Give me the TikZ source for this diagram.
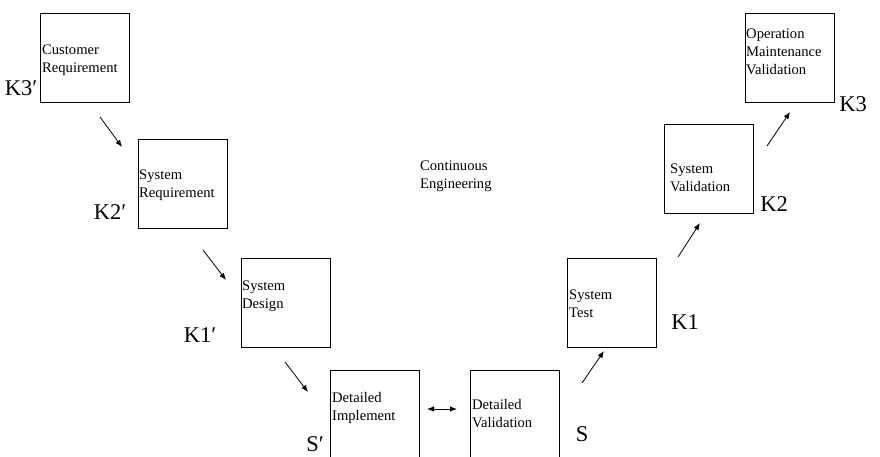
\documentclass[tikz,border=0pt]{standalone}
\usepackage{fontspec}
\setmainfont{Liberation Serif}
\usetikzlibrary{arrows.meta}
\begin{document}
\begin{tikzpicture}[x=1pt,y=-1pt,
  stagebox/.style={draw,line width=0.9pt,minimum width=89pt,minimum height=89pt,inner sep=0pt,anchor=north west},
  stagetext/.style={anchor=west,align=left,inner sep=0pt,font=\fontsize{14.6}{18}\selectfont},
  tag/.style={inner sep=0pt,font=\fontsize{22.5}{24}\selectfont},
  flow/.style={line width=0.8pt,-{Latex[length=7pt,width=5.5pt]}},
  link/.style={line width=0.8pt,{Latex[length=7pt,width=5.5pt]}-{Latex[length=7pt,width=5.5pt]}}]
\useasboundingbox (0,0) rectangle (880,457);

% stages of the V
\node[stagebox] (cr) at (40,13) {};
\node[stagebox] (sr) at (138,139) {};
\node[stagebox] (sd) at (241,258) {};
\node[stagebox] (di) at (330,370) {};
\node[stagebox] (dv) at (470,370) {};
\node[stagebox] (st) at (567,258) {};
\node[stagebox] (sv) at (664,124) {};
\node[stagebox] (om) at (745,13) {};

% stage captions
\node[stagetext] (crt) at (42,60) {Customer\\Requirement};
\node[stagetext] (srt) at (139,185) {System\\Requirement};
\node[stagetext] (sdt) at (242,296) {System\\Design};
\node[stagetext] (dit) at (332,408) {Detailed\\Implement};
\node[stagetext] (dvt) at (472,414) {Detailed\\Validation};
\node[stagetext] (stt) at (569,304) {System\\Test};
\node[stagetext] (svt) at (670,178) {System\\Validation};
\node[stagetext] (omt) at (746,52) {Operation\\Maintenance\\Validation};

\node[stagetext] (ce) at (420,176) {Continuous\\Engineering};

% level tags
\node[tag] (k3p) at (21,88) {K3′};
\node[tag] (k2p) at (110,212) {K2′};
\node[tag] (k1p) at (200,335) {K1′};
\node[tag] (sp)  at (315,444) {S′};
\node[tag] (s)   at (582,434) {S};
\node[tag] (k1)  at (685,322) {K1};
\node[tag] (k2)  at (774,204) {K2};
\node[tag] (k3)  at (853,104) {K3};

% arrow end points
\coordinate (a1s) at (100,117); \coordinate (a1e) at (122,147);
\coordinate (a2s) at (203,250); \coordinate (a2e) at (226,280);
\coordinate (a3s) at (285,362); \coordinate (a3e) at (308,392);
\coordinate (a4s) at (427,409); \coordinate (a4e) at (457,409);
\coordinate (a5s) at (582,383); \coordinate (a5e) at (604,351);
\coordinate (a6s) at (678,257); \coordinate (a6e) at (700,223);
\coordinate (a7s) at (767,146); \coordinate (a7e) at (790,112);

\draw[flow] (a1s) -- (a1e);
\draw[flow] (a2s) -- (a2e);
\draw[flow] (a3s) -- (a3e);
\draw[link] (a4s) -- (a4e);
\draw[flow] (a5s) -- (a5e);
\draw[flow] (a6s) -- (a6e);
\draw[flow] (a7s) -- (a7e);
\end{tikzpicture}
\end{document}
